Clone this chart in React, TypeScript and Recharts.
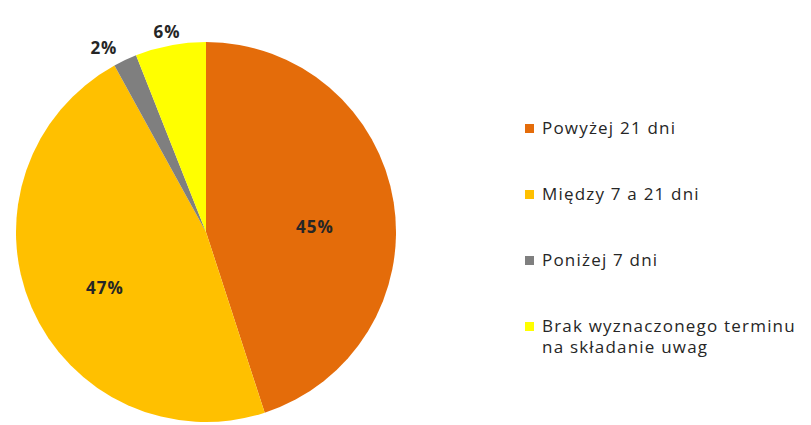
import React from 'react';
import { PieChart, Pie, Cell, Legend } from 'recharts';

const categories = ['Powyżej 21 dni', 'Między 7 a 21 dni', 'Poniżej 7 dni', 'Brak wyznaczonego terminu na składanie uwag'];
const shares = [45, 47, 2, 6];
const colors = ['#E46C0A', '#FFC000', '#7F7F7F', '#FFFF00'];

const data = categories.map((name, i) => ({ name, value: shares[i] }));

const RAD = Math.PI / 180;

function renderLabel(props: any) {
  const { cx, cy, midAngle, outerRadius, value } = props;
  const inside = value >= 10;
  const r = inside ? outerRadius * 0.58 : outerRadius + 18;
  const x = cx + r * Math.cos(-midAngle * RAD);
  const y = cy + r * Math.sin(-midAngle * RAD) + (inside ? 12 : 4);
  return (
    <text
      x={x}
      y={y}
      fill="#262626"
      fontSize={17}
      fontWeight="bold"
      letterSpacing={1}
      fontFamily="'Open Sans', sans-serif"
      textAnchor={!inside && value < 5 ? 'end' : 'middle'}
      dominantBaseline="central"
    >
      {`${value}%`}
    </text>
  );
}

function renderLegend() {
  return (
    <div style={{ fontFamily: "'Open Sans', sans-serif", fontSize: 17, letterSpacing: 1.2, color: '#262626' }}>
      {categories.map((name, i) => (
        <div key={name} style={{ display: 'flex', alignItems: 'flex-start', height: 66, width: 290 }}>
          <span
            style={{
              display: 'inline-block',
              width: 9,
              height: 9,
              background: colors[i],
              marginTop: 7,
              marginRight: 8,
              flex: 'none',
            }}
          />
          <span style={{ lineHeight: '21px' }}>{name}</span>
        </div>
      ))}
    </div>
  );
}

export default function App() {
  return (
    <div style={{ position: 'absolute', left: 0, top: 0, background: '#fff' }}>
      <PieChart width={811} height={425} margin={{ top: 0, right: 0, bottom: 0, left: 0 }}>
        <Pie
          data={data}
          dataKey="value"
          nameKey="name"
          cx={206}
          cy={232}
          outerRadius={190}
          startAngle={90}
          endAngle={-270}
          stroke="none"
          label={renderLabel}
          labelLine={false}
          isAnimationActive={false}
        >
          {data.map((d, i) => (
            <Cell key={d.name} fill={colors[i]} />
          ))}
        </Pie>
        <Legend
          layout="vertical"
          align="right"
          verticalAlign="top"
          content={renderLegend}
          wrapperStyle={{ left: 525, top: 117, width: 290 }}
        />
      </PieChart>
    </div>
  );
}
